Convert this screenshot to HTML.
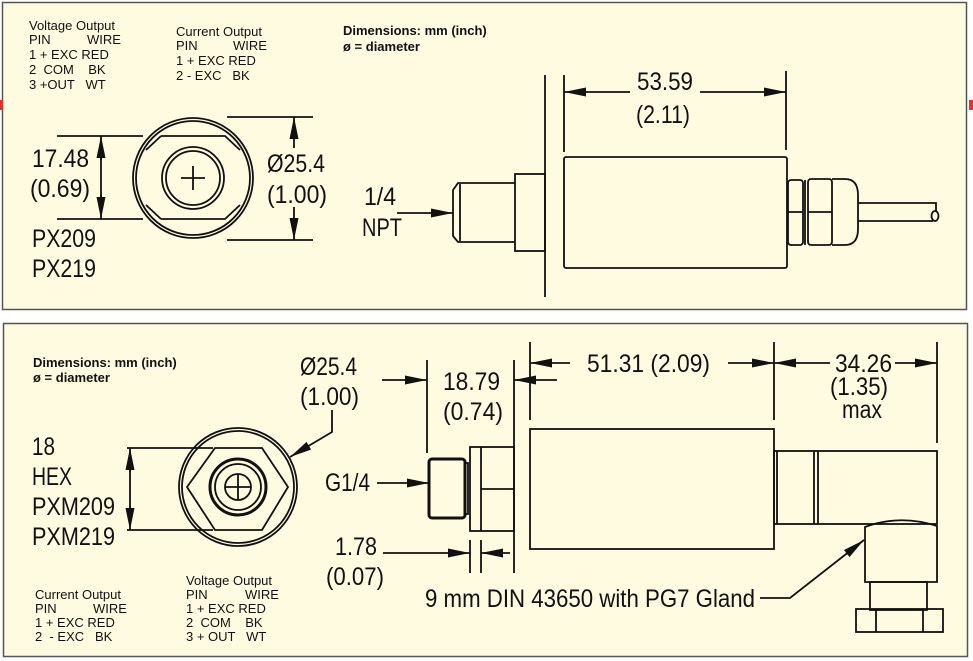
<!DOCTYPE html>
<html><head><meta charset="utf-8"><style>
html,body{margin:0;padding:0;background:#fff;}
svg{display:block;}
text{font-family:"Liberation Sans",sans-serif;fill:#111;}
.s{font-size:13px;}
.b{font-size:13px;font-weight:bold;}
.l{font-size:25px;}
</style></head><body>
<svg width="973" height="661" viewBox="0 0 973 661" xmlns="http://www.w3.org/2000/svg">
<defs>
<marker id="A" viewBox="0 0 10 10" refX="10" refY="5" markerWidth="22" markerHeight="9" preserveAspectRatio="none" orient="auto-start-reverse" markerUnits="userSpaceOnUse"><path d="M0,0 L10,5 L0,10z" fill="#111"/></marker>
</defs>
<rect x="2.5" y="2.5" width="964" height="307" fill="#fffbe1" stroke="#555" stroke-width="1.5"/>
<rect x="3.5" y="323.5" width="964" height="333" fill="#fffbe1" stroke="#555" stroke-width="1.5"/>
<rect x="0" y="100" width="3" height="10" fill="#d33"/>
<rect x="969" y="100" width="4" height="10" fill="#d33"/>
<g stroke="#111" fill="none" stroke-width="1.8">
<!-- Panel 1 left circle -->
<circle cx="193" cy="178" r="60"/><circle cx="193" cy="178" r="57"/>
<path d="M161,136 L225,136 L240,150 M161,136 L146,150 M161,219 L225,219 L240,205 M161,219 L146,205"/>
<circle cx="193" cy="178" r="31"/><circle cx="193" cy="178" r="27"/>
<path d="M181,178 H205 M193,166 V190"/>
<path d="M57,136 H143 M57,219 H143"/>
<path d="M101,160 V136" marker-end="url(#A)"/><path d="M101,195 V219" marker-end="url(#A)"/><path d="M101,150 V205"/>
<path d="M227,117 H313 M227,240 H313"/>
<path d="M294,148 V117" marker-end="url(#A)"/><path d="M294,207 V240" marker-end="url(#A)"/>
<!-- Panel 1 right -->
<path d="M545,75 V297"/>
<path d="M564,75 V152 M786,71 V150"/>
<path d="M630,92 H564" marker-end="url(#A)"/><path d="M700,92 H786" marker-end="url(#A)"/>
<rect x="564" y="157" width="223" height="111" rx="2"/>
<rect x="515" y="174" width="30" height="77"/>
<path d="M515,183 H458 L453,190 V236 L458,242 H515 M460,184 V241"/>
<path d="M397,213 H453" marker-end="url(#A)"/>
<rect x="788" y="180" width="15" height="65" rx="3"/>
<path d="M788,212 H803 M805,180 V245"/>
<rect x="808" y="179" width="24" height="66" rx="3"/>
<path d="M808,212 H832"/>
<path d="M832,179 H845 Q858,179 858,195 V229 Q858,245 845,245 H832"/>
<path d="M858,203 H936 V212 M858,221 H933"/>
<ellipse cx="935" cy="216" rx="3.5" ry="5"/>
<!-- Panel 2 left -->
<circle cx="238" cy="487" r="59"/><circle cx="238" cy="487" r="56"/>
<polygon points="187,487 215,448 262,448 288,487 262,530 215,530"/>
<circle cx="238" cy="487" r="28" stroke-width="3"/><circle cx="238" cy="487" r="23"/>
<circle cx="238" cy="487" r="13"/><path d="M225,487 H251 M238,474 V500"/>
<path d="M127,448 H213 M127,530 H213"/>
<path d="M130,472 V448" marker-end="url(#A)"/><path d="M130,506 V530" marker-end="url(#A)"/><path d="M130,470 V508"/>
<path d="M332,410 V432 L290,457" marker-end="url(#A)"/>
<!-- Panel 2 right -->
<path d="M530,342 V420 M774,342 V420 M937,342 V443"/>
<path d="M570,363 H530" marker-end="url(#A)"/><path d="M728,363 H774" marker-end="url(#A)"/>
<path d="M830,363 H774" marker-end="url(#A)"/><path d="M895,363 H937" marker-end="url(#A)"/>
<path d="M427,360 V453 M514,360 V573"/>
<path d="M382,380 H427" marker-end="url(#A)"/><path d="M557,380 H514" marker-end="url(#A)"/>
<rect x="530" y="429" width="244" height="120"/>
<rect x="470" y="447" width="44" height="84"/>
<path d="M481,447 V531 M481,489 H514"/>
<rect x="429" y="459" width="36" height="59" rx="3" stroke-width="3"/>
<path d="M465,463 H468 V514 H465"/>
<path d="M377,483 H429" marker-end="url(#A)"/>
<path d="M470,540 V573 M481,540 V573"/>
<path d="M383,553 H470" marker-end="url(#A)"/><path d="M510,553 H481" marker-end="url(#A)"/>
<rect x="774" y="451" width="163" height="73"/>
<path d="M777,451 V524 M814,451 V524 M818,451 V524"/>
<path d="M865,582 V527 Q900,514 937,526 V582 Z"/>
<rect x="870" y="582" width="57" height="28"/>
<rect x="856" y="609" width="87" height="23"/>
<path d="M876,609 V632 M923,609 V632"/>
<path d="M760,598 H790 L864,540" marker-end="url(#A)"/>
</g>
<!-- Panel 1 text -->
<text class="s" x="29" y="30">Voltage Output</text>
<text class="s" x="29" y="44">PIN</text><text class="s" x="87" y="44">WIRE</text>
<text class="s" x="29" y="59">1 + EXC  RED</text>
<text class="s" x="29" y="74" xml:space="preserve">2  COM    BK</text>
<text class="s" x="29" y="89" xml:space="preserve">3 +OUT   WT</text>
<text class="s" x="176" y="36">Current Output</text>
<text class="s" x="176" y="50">PIN</text><text class="s" x="233" y="50">WIRE</text>
<text class="s" x="176" y="65">1 + EXC  RED</text>
<text class="s" x="176" y="80" xml:space="preserve">2 - EXC   BK</text>
<text class="b" x="343" y="35">Dimensions: mm (inch)</text>
<text class="b" x="343" y="51">ø = diameter</text>
<g lengthAdjust="spacingAndGlyphs">
<text class="l" x="32" y="167" textLength="57" lengthAdjust="spacingAndGlyphs">17.48</text>
<text class="l" x="30" y="197" textLength="60" lengthAdjust="spacingAndGlyphs">(0.69)</text>
<text class="l" x="32" y="247" textLength="64" lengthAdjust="spacingAndGlyphs">PX209</text>
<text class="l" x="32" y="277" textLength="64" lengthAdjust="spacingAndGlyphs">PX219</text>
<text class="l" x="267" y="172" textLength="58" lengthAdjust="spacingAndGlyphs">Ø25.4</text>
<text class="l" x="267" y="203" textLength="60" lengthAdjust="spacingAndGlyphs">(1.00)</text>
<text class="l" x="364" y="205" textLength="32" lengthAdjust="spacingAndGlyphs">1/4</text>
<text class="l" x="362" y="236" textLength="40" lengthAdjust="spacingAndGlyphs">NPT</text>
<text class="l" x="637" y="90" textLength="56" lengthAdjust="spacingAndGlyphs">53.59</text>
<text class="l" x="636" y="123" textLength="54" lengthAdjust="spacingAndGlyphs">(2.11)</text>
<text class="l" x="300" y="375" textLength="57" lengthAdjust="spacingAndGlyphs">Ø25.4</text>
<text class="l" x="300" y="405" textLength="59" lengthAdjust="spacingAndGlyphs">(1.00)</text>
<text class="l" x="32" y="455" textLength="23" lengthAdjust="spacingAndGlyphs">18</text>
<text class="l" x="32" y="485" textLength="40" lengthAdjust="spacingAndGlyphs">HEX</text>
<text class="l" x="32" y="515" textLength="83" lengthAdjust="spacingAndGlyphs">PXM209</text>
<text class="l" x="32" y="545" textLength="83" lengthAdjust="spacingAndGlyphs">PXM219</text>
<text class="l" x="325" y="491" textLength="45" lengthAdjust="spacingAndGlyphs">G1/4</text>
<text class="l" x="335" y="555" textLength="42" lengthAdjust="spacingAndGlyphs">1.78</text>
<text class="l" x="326" y="585" textLength="58" lengthAdjust="spacingAndGlyphs">(0.07)</text>
<text class="l" x="443" y="390" textLength="57" lengthAdjust="spacingAndGlyphs">18.79</text>
<text class="l" x="443" y="420" textLength="60" lengthAdjust="spacingAndGlyphs">(0.74)</text>
<text class="l" x="587" y="372" textLength="123" lengthAdjust="spacingAndGlyphs">51.31 (2.09)</text>
<text class="l" x="835" y="372" textLength="57" lengthAdjust="spacingAndGlyphs">34.26</text>
<text class="l" x="830" y="395" textLength="58" lengthAdjust="spacingAndGlyphs">(1.35)</text>
<text class="l" x="842" y="418" textLength="40" lengthAdjust="spacingAndGlyphs">max</text>
<text class="l" x="425" y="607" textLength="330" lengthAdjust="spacingAndGlyphs">9 mm DIN 43650 with PG7 Gland</text>
</g>
<text class="b" x="33" y="367">Dimensions: mm (inch)</text>
<text class="b" x="33" y="382">ø = diameter</text>
<text class="s" x="35" y="599">Current Output</text>
<text class="s" x="35" y="613">PIN</text><text class="s" x="93" y="613">WIRE</text>
<text class="s" x="35" y="627">1 + EXC  RED</text>
<text class="s" x="35" y="641" xml:space="preserve">2  - EXC   BK</text>
<text class="s" x="186" y="585">Voltage Output</text>
<text class="s" x="186" y="599">PIN</text><text class="s" x="245" y="599">WIRE</text>
<text class="s" x="186" y="613">1 + EXC  RED</text>
<text class="s" x="186" y="627" xml:space="preserve">2  COM    BK</text>
<text class="s" x="186" y="641" xml:space="preserve">3 + OUT   WT</text>
</svg>
</body></html>
